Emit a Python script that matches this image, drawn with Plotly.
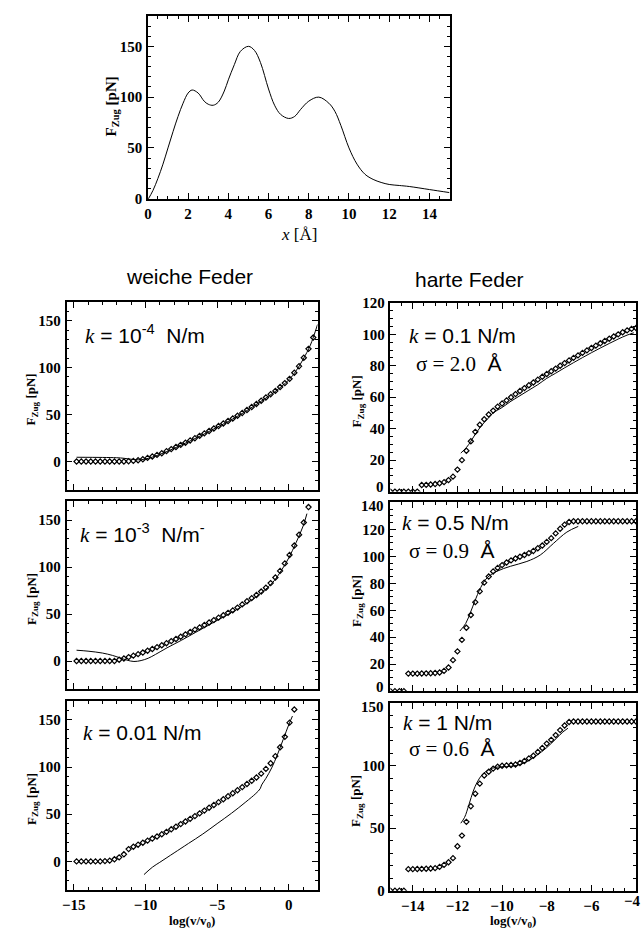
import plotly.graph_objects as go

W, H = 642, 938

# ---------------- data ----------------
TOP_X = [0.0, 0.25, 0.5, 0.75, 1.0, 1.25, 1.5, 1.75, 2.0, 2.2, 2.5, 2.8, 3.0, 3.25, 3.5, 3.8, 4.0, 4.3,
         4.6, 5.0, 5.3, 5.6, 6.0, 6.3, 6.6, 7.0, 7.3, 7.6, 8.0, 8.5, 9.0, 9.3, 9.6, 10.0, 10.4, 10.8,
         11.2, 11.6, 12.0, 12.5, 13.0, 14.0, 15.0]
TOP_Y = [-1, 8, 20, 34, 50, 66, 81, 94, 104, 107, 104, 96, 93, 92, 95, 106, 117, 132,
         145, 150, 146, 134, 108, 92, 83, 79, 81, 88, 96, 100, 94, 86, 72, 50, 34, 24,
         19, 16, 14, 13, 12, 9, 6]

# soft spring (left column) sample grid, log(v/v0)
X_SOFT = [-14.80, -14.47, -14.14, -13.81, -13.48, -13.15, -12.82, -12.49, -12.16, -11.83,
          -11.50, -11.17, -10.84, -10.51, -10.18, -9.85, -9.52, -9.19, -8.86, -8.53,
          -8.20, -7.87, -7.54, -7.21, -6.88, -6.55, -6.22, -5.89, -5.56, -5.23,
          -4.90, -4.57, -4.24, -3.91, -3.58, -3.25, -2.92, -2.59, -2.26, -1.93,
          -1.60, -1.27, -0.94, -0.61, -0.28, 0.05, 0.38, 0.71, 1.04, 1.37, 1.70]

SOFT1_PTS = [0, 0, 0, 0, 0, 0, 0, 0, 0, 0,
             0, 0.3, 0.6, 1.3, 2.4, 3.8, 5.3, 7.0, 8.8, 11.0,
             13.2, 15.4, 17.7, 20.0, 22.4, 24.8, 27.3, 29.9, 32.5, 35.1,
             37.8, 40.5, 43.1, 45.8, 48.7, 51.7, 54.8, 58.0, 61.3, 64.7,
             68.2, 71.7, 75.2, 79.3, 83.5, 88.0, 94.5, 101.5, 110.5, 120.0, 132.0]
SOFT1_LX = [-14.8, -13, -12, -11.5, -11, -10.5, -10, -9, -8, -7, -6, -5, -4, -3, -2, -1, 0, 0.5, 1.0, 1.5, 2.0]
SOFT1_LY = [4.5, 4.3, 4.0, 3.4, 2.4, 1.8, 2.6, 7.5, 14, 21, 28.5, 36.5, 44.5, 53.5, 63.5, 74, 87, 96.5, 109, 124, 146]

SOFT2_PTS = [0, 0, 0, 0, 0, 0, 0, 0, 0, 1.3,
             2.7, 4.2, 5.7, 7.3, 9.0, 10.9, 12.8, 14.8, 16.8, 19.0,
             21.2, 23.5, 25.9, 28.4, 30.9, 33.4, 35.8, 38.4, 41.0, 43.6,
             46.2, 48.8, 51.3, 53.9, 56.9, 60.3, 63.7, 67.0, 70.3, 74.0,
             78.0, 83.0, 89.0, 96.0, 104.0, 113.0, 123.0, 134.5, 147.5, 164.0]
SOFT2_LX = [-14.8, -14, -13, -12.3, -11.8, -11.3, -10.8, -10.3, -9.8, -9.3, -8.5, -7.5, -6.5, -5.5,
            -4.5, -3.5, -2.5, -1.5, -1.0, -0.5, 0, 0.5, 1.0, 1.26]
SOFT2_LY = [11.5, 10.5, 8.5, 6.0, 3.5, 1.0, -0.5, 0.5, 3.0, 7.0, 14, 22, 30.5, 39,
            47.5, 56, 66, 78, 86, 97, 110, 126, 144, 157]

SOFT3_PTS = [0, 0, 0, 0, 0, 0, 0.3, 0.8, 2.2, 4.3,
             7.5, 13.0, 15.5, 17.7, 19.8, 22.0, 24.2, 26.4, 28.8, 31.3,
             34.0, 36.7, 39.5, 42.3, 45.1, 48.0, 50.9, 53.8, 56.8, 59.8,
             62.8, 65.9, 69.0, 72.2, 75.4, 78.7, 82.0, 85.4, 88.9, 93.0,
             98.0, 104.0, 111.5, 121.0, 132.0, 147.0, 161.0]
SOFT3_LX = [-10.1, -9.5, -9.0, -8.5, -8.0, -7.0, -6.0, -5.0, -4.0, -3.0, -2.3, -2.0, -1.9, -1.6,
            -1.2, -0.8, -0.4, 0.0, 0.25]
SOFT3_LY = [-14, -6, -1, 4, 9, 19, 29, 40, 51, 63, 72, 77, 81, 88, 99, 113, 129, 145, 154]

# stiff spring (right column) sample grid
X_HARD = [-15.0, -14.8, -14.6, -14.4, -14.2, -14.0, -13.8, -13.6, -13.4, -13.2, -13.0, -12.8,
          -12.6, -12.4, -12.2, -12.0, -11.8, -11.6, -11.4, -11.2, -11.0, -10.8, -10.6, -10.4,
          -10.2, -10.0, -9.8, -9.6, -9.4, -9.2, -9.0, -8.8, -8.6, -8.4, -8.2, -8.0, -7.8, -7.6,
          -7.4, -7.2, -7.0, -6.8, -6.6, -6.4, -6.2, -6.0, -5.8, -5.6, -5.4, -5.2, -5.0, -4.8,
          -4.6, -4.4, -4.2, -4.0]

HARD1_PTS = [0, 0, 0, 0, 0, 0, 0, 4.2, 4.3, 4.5, 4.8, 5.3,
             6.0, 7.3, 9.5, 14.0, 20.0, 26.0, 32.0, 38.0, 42.5, 46.0, 49.0, 51.5,
             54.0, 56.0, 58.0, 60.0, 62.0, 64.0, 65.8, 67.6, 69.4, 71.2, 73.0, 74.8, 76.5, 78.2,
             80.0, 81.7, 83.4, 85.0, 86.6, 88.2, 89.8, 91.3, 92.8, 94.3, 95.8, 97.2, 98.6, 100.0,
             101.3, 102.5, 103.5, 104.0]
HARD1_LX = [-11.85, -11.6, -11.4, -11.2, -11.0, -10.8, -10.6, -10.4, -10.0, -9.6, -9.2, -8.8, -8.4,
            -8.0, -7.6, -7.2, -6.8, -6.4, -6.0, -5.6, -5.2, -4.8, -4.4, -4.1]
HARD1_LY = [24.5, 28, 32, 36.5, 40.5, 44, 47, 50, 53.5, 57.5, 61, 64.5, 68,
            72, 75.3, 78.7, 82, 85.2, 88.3, 91.3, 94.2, 97, 99.5, 101]

HARD2_PTS = [0, 0, 0, 0, 13.0, 13.0, 13.0, 13.1, 13.2, 13.3, 13.5, 13.8,
             15.0, 17.5, 23.0, 29.5, 38.0, 47.0, 56.5, 66.0, 74.0, 80.5, 85.0, 88.8,
             91.4, 93.5, 95.4, 97.0, 98.4, 99.7, 101.0, 102.4, 104.0, 106.0, 108.0, 110.7, 113.5, 117.0,
             120.5, 123.5, 125.5, 126.0, 126.0, 126.0, 126.0, 126.0, 126.0, 126.0, 126.0, 126.0, 126.0, 126.0,
             126.0, 126.0, 126.0, 126.0]
HARD2_LX = [-11.89, -11.63, -11.41, -11.23, -10.96, -10.67, -10.22, -9.63, -8.89, -8.29, -7.7, -7.1, -6.59]
HARD2_LY = [44.6, 50.2, 58.7, 66.4, 76.8, 84.1, 89, 92.6, 96.2, 101, 109.6, 118, 122.2]

HARD3_PTS = [0, 0, 0, 0, 17.2, 17.2, 17.3, 17.4, 17.5, 17.7, 18.0, 19.0,
             20.6, 22.7, 26.0, 35.5, 44.0, 55.0, 67.5, 77.5, 85.5, 92.0, 95.0, 97.5,
             99.0, 99.8, 100.1, 100.4, 100.8, 102.0, 103.6, 105.7, 107.8, 110.8, 114.0, 117.5, 120.5, 124.3,
             128.3, 132.0, 134.8, 135.2, 135.2, 135.2, 135.2, 135.2, 135.2, 135.2, 135.2, 135.2, 135.2, 135.2,
             135.2, 135.2, 135.2, 135.2]
HARD3_LX = [-11.85, -11.68, -11.48, -11.29, -11.11, -10.89, -10.6, -10.24, -9.8, -9.36, -8.91, -8.47,
            -8.02, -7.58, -7.28, -7.05]
HARD3_LY = [53.9, 58.6, 69, 79.6, 86.9, 92.7, 96.6, 98.7, 99.2, 100, 103, 107.9,
            114, 121.5, 126.7, 129.8]

# tick labels
TOP_XTICKS = [0, 2, 4, 6, 8, 10, 12, 14]
TOP_YTICKS = [0, 50, 100, 150]
SOFT_XTICKS = [-15, -10, -5, 0]
SOFT_YTICKS = [0, 50, 100, 150]
HARD_XTICKS = [-14, -12, -10, -8, -6, -4]
HARD1_YTICKS = [0, 20, 40, 60, 80, 100, 120]
HARD2_YTICKS = [0, 20, 40, 60, 80, 100, 120, 140]
HARD3_YTICKS = [0, 50, 100, 150]

SECTION_TITLES = ["weiche Feder", "harte Feder"]
K_LABELS = ["<i>k</i> = 10<sup>-4</sup>  N/m", "<i>k</i> = 10<sup>-3</sup>  N/m<sup>-</sup>", "<i>k</i> = 0.01 N/m",
            "<i>k</i> = 0.1 N/m", "<i>k</i> = 0.5 N/m", "<i>k</i> = 1 N/m"]
SIGMA_LABELS = ["σ = 2.0", "σ = 0.9", "σ = 0.6"]

# ---------------- layout helpers ----------------
def px(x):
    return x / W

def py(y):
    return 1 - y / H

SERIF = "Liberation Serif"
SANS = "Liberation Sans"
TICKSIZE = 15
TICKFONT = dict(family=SERIF, size=TICKSIZE, color="black")

def lab(v):
    return "<b>" + str(v).replace("-", "\u2212") + "</b>"

def axis(domain, rng, ticks, minor_dtick, anchor, showlabels=True, hide=()):
    return dict(domain=domain, range=rng, tickmode="array", tickvals=ticks,
                ticktext=["" if t in hide else lab(t) for t in ticks], anchor=anchor,
                showline=True, linecolor="black", linewidth=1.5, mirror="allticks",
                ticks="inside", ticklen=6, tickwidth=1, tickcolor="black",
                showgrid=False, zeroline=False, showticklabels=showlabels,
                tickfont=TICKFONT, ticklabelstandoff=1,
                minor=dict(ticks="inside", ticklen=3, tickwidth=1, tickcolor="black",
                           tickmode="linear", tick0=0, dtick=minor_dtick, showgrid=False))

fig = go.Figure()

LX = [62, 315]
RX = [388.5, 636]
LEFT_Y = [(299, 490), (502, 693), (705, 897)]
RIGHT_Y = [(300, 492), (503, 695), (707, 898)]

layout = dict(width=W, height=H, margin=dict(l=0, r=0, t=0, b=0),
              paper_bgcolor="white", plot_bgcolor="white", showlegend=False)

# top plot
layout["xaxis"] = axis([px(144), px(448)], [0, 15], TOP_XTICKS, 0.5, "y")
layout["yaxis"] = axis([py(194), py(8)], [0, 180], TOP_YTICKS, 10, "x")

soft = [(SOFT1_PTS, SOFT1_LX, SOFT1_LY), (SOFT2_PTS, SOFT2_LX, SOFT2_LY), (SOFT3_PTS, SOFT3_LX, SOFT3_LY)]
hard = [(HARD1_PTS, HARD1_LX, HARD1_LY, [0, 120], HARD1_YTICKS, 5, (0,)),
        (HARD2_PTS, HARD2_LX, HARD2_LY, [0, 140], HARD2_YTICKS, 5, (0, 140)),
        (HARD3_PTS, HARD3_LX, HARD3_LY, [0, 150], HARD3_YTICKS, 10, (150,))]

fig.add_trace(go.Scatter(x=TOP_X, y=TOP_Y, mode="lines", line=dict(color="black", width=1, shape="spline"),
                         xaxis="x", yaxis="y"))

MARK = dict(symbol="diamond-open", size=4, color="black", line=dict(width=1.2, color="black"))

for i, (pts, lx, ly) in enumerate(soft):
    n = i + 2
    y0, y1 = LEFT_Y[i]
    layout[f"xaxis{n}"] = axis([px(LX[0]), px(LX[1])], [-15.5, 2], SOFT_XTICKS, 1, f"y{n}", showlabels=(i == 2))
    layout[f"yaxis{n}"] = axis([py(y1), py(y0)], [-30, 170], SOFT_YTICKS, 10, f"x{n}")
    fig.add_trace(go.Scatter(x=lx, y=ly, mode="lines", line=dict(color="black", width=1, shape="spline"),
                             xaxis=f"x{n}", yaxis=f"y{n}"))
    fig.add_trace(go.Scatter(x=X_SOFT[:len(pts)], y=pts, mode="markers", marker=MARK,
                             xaxis=f"x{n}", yaxis=f"y{n}"))

for i, (pts, lx, ly, rng, yt, mdt, hide) in enumerate(hard):
    n = i + 5
    y0, y1 = RIGHT_Y[i]
    layout[f"xaxis{n}"] = axis([px(RX[0]), px(RX[1])], [-15, -4], HARD_XTICKS, 0.5, f"y{n}",
                               showlabels=(i == 2), hide=(-4,))
    layout[f"yaxis{n}"] = axis([py(y1), py(y0)], rng, yt, mdt, f"x{n}", hide=hide)
    fig.add_trace(go.Scatter(x=lx, y=ly, mode="lines", line=dict(color="black", width=1, shape="spline"),
                             xaxis=f"x{n}", yaxis=f"y{n}"))
    fig.add_trace(go.Scatter(x=X_HARD[:len(pts)], y=pts, mode="markers", marker=MARK,
                             xaxis=f"x{n}", yaxis=f"y{n}"))

ann = []

def text(x, y, s, size, family=SANS, xanchor="center", angle=0, yanchor="middle"):
    ann.append(dict(x=px(x), y=py(y), xref="paper", yref="paper", text=s, showarrow=False,
                    xanchor=xanchor, yanchor=yanchor, textangle=angle, borderpad=0,
                    font=dict(family=family, size=size, color="black")))

# edge tick labels of the right column, nudged inside their own panel as in the original
for yv, ylab in [(487, 0), (507, 140), (691, 0), (711, 150)]:
    text(383, yv, lab(ylab), TICKSIZE, SERIF, xanchor="right")
# last x label of the right column sits at the page edge
text(642, 908, lab(HARD_XTICKS[-1]), TICKSIZE, SERIF, xanchor="right")

# section titles
text(186, 273, SECTION_TITLES[0], 21)
text(468, 276, SECTION_TITLES[1], 21)

# axis titles
YT = "<b>F<sub>Zug</sub> [pN]</b>"
text(108, 100, YT, 15, SERIF, angle=-90)
for (y0, y1) in LEFT_Y:
    text(27, (y0 + y1) / 2 + 4, YT, 13, SERIF, angle=-90)
for (y0, y1) in RIGHT_Y:
    text(355, (y0 + y1) / 2 + 4, YT, 13, SERIF, angle=-90)
text(296, 230, "<i>x</i> [Å]", 17, SERIF)
text(188, 920, "<b>log(v/v<sub>0</sub>)</b>", 13, SERIF, yanchor="top")
text(512, 920, "<b>log(v/v<sub>0</sub>)</b>", 13, SERIF, yanchor="top")

# panel labels
def klabel(s):
    return s.replace("<i>k</i>", f"<span style='font-family:{SERIF}'><i>k</i></span>")

text(80, 332, klabel(K_LABELS[0]), 21, xanchor="left")
text(75, 535, klabel(K_LABELS[1]), 21, xanchor="left")
text(78, 738, klabel(K_LABELS[2]), 21, xanchor="left")
text(406, 334, klabel(K_LABELS[3]), 21, xanchor="left")
text(399, 524, klabel(K_LABELS[4]), 21, xanchor="left")
text(400, 727, klabel(K_LABELS[5]), 21, xanchor="left")
for (x, y), s in zip([(413, 362), (406, 552), (406, 754)], SIGMA_LABELS):
    text(x, y, f"<span style='font-family:{SERIF}'>{s}</span>  Å", 21, xanchor="left")

layout["annotations"] = ann
fig.update_layout(**layout)
fig.write_html("out.html")
